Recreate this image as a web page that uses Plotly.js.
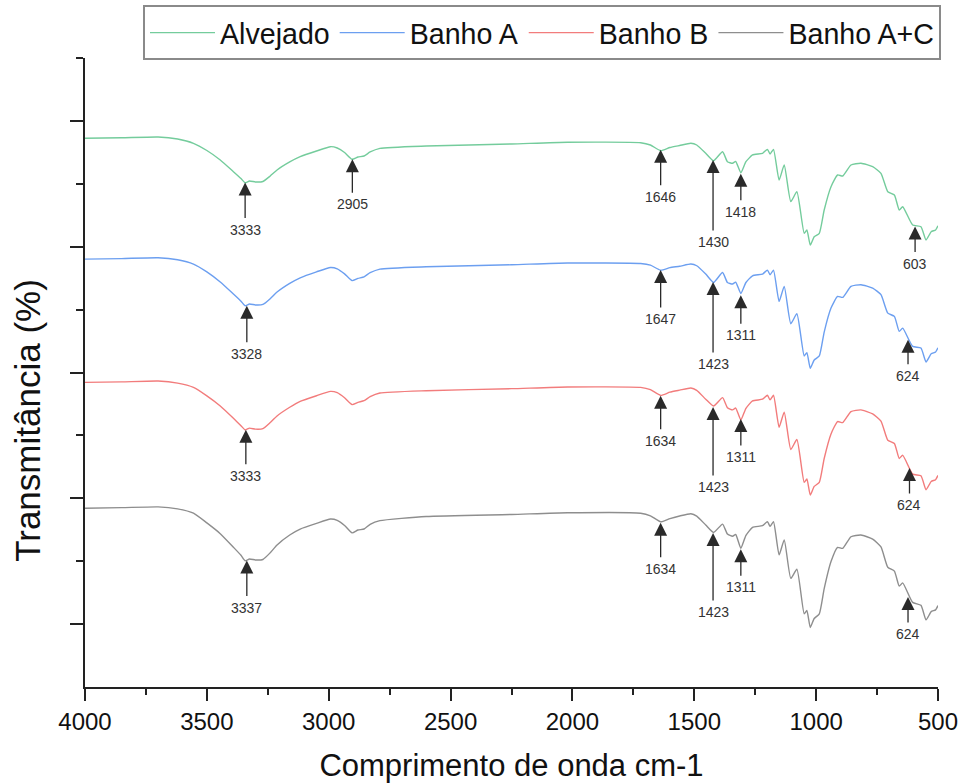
<!DOCTYPE html>
<html>
<head>
<meta charset="utf-8">
<script src="https://cdn.plot.ly/plotly-3.0.1.min.js"></script>
<style>html,body{margin:0;padding:0;background:#fff;}#chart{width:965px;height:784px;}</style>
</head>
<body>
<div id="chart"></div>
<script>
// Wavenumbers (cm-1)
const wavenumber = [4000,3850,3700,3620,3555,3500,3445,3391,3360,3343,3325,3300,3270,3240,3212,3160,3117,3050,2993,2965,2935,2904,2880,2855,2830,2790,2600,2250,2020,1720,1680,1638,1600,1560,1514,1490,1453,1421,1384,1364,1343,1330,1309,1288,1261,1220,1200,1189,1175,1152,1131,1104,1079,1049,1038,1024,1008,987,967,939,912,891,857,816,768,734,706,679,659,645,604,570,549,528,510,500];

// Transmittance (stacked, arbitrary offset units)
const alvejado = [87.23,87.31,87.44,87.12,86.44,85.29,83.78,81.92,80.84,80.17,80.45,80.29,80.37,81.24,82.19,83.47,84.31,85.21,85.90,85.69,84.98,83.90,84.26,84.42,85.06,85.64,86.01,86.33,86.60,86.53,86.17,85.26,85.77,86.09,86.44,86.17,84.85,83.67,85.10,83.51,83.26,83.55,81.76,83.51,84.58,84.85,85.48,84.74,85.48,80.60,82.99,77.16,78.74,72.13,72.66,70.27,71.59,72.13,75.83,79.54,81.40,81.24,82.99,83.26,82.72,81.67,78.74,78.22,75.83,76.36,73.45,73.18,71.07,72.38,72.66,73.34];
const banhoA = [68.03,68.11,68.24,67.92,67.24,65.99,64.38,62.47,61.34,60.62,60.90,60.74,60.82,61.74,62.79,64.17,65.06,66.01,66.70,66.49,65.68,64.60,64.96,65.22,65.86,66.44,66.81,67.13,67.40,67.33,67.07,66.26,66.67,66.89,67.24,66.97,65.65,64.32,65.90,64.31,64.06,64.35,62.56,64.31,65.38,65.65,66.28,65.54,66.28,61.30,63.69,57.76,59.34,52.63,53.16,50.67,51.99,52.63,56.43,60.24,62.10,61.94,63.69,63.96,63.42,62.37,59.44,58.92,56.53,57.06,54.15,53.88,51.67,52.98,53.26,53.94];
const banhoB = [48.43,48.51,48.64,48.32,47.64,46.29,44.68,42.72,41.54,40.87,41.15,40.99,41.07,42.04,43.09,44.47,45.41,46.31,47.00,46.79,45.98,44.90,45.26,45.52,46.16,46.74,47.11,47.43,47.70,47.63,47.27,46.36,46.87,47.19,47.54,47.17,45.75,44.67,46.00,44.41,44.06,44.35,42.46,44.31,45.48,45.75,46.38,45.64,46.38,41.30,43.69,37.76,39.34,32.53,33.06,30.52,31.89,32.53,36.33,40.24,42.20,42.04,43.79,44.06,43.42,42.27,39.24,38.72,36.33,36.86,33.85,33.58,31.37,32.68,32.96,33.64];
const banhoAC = [28.43,28.51,28.64,28.32,27.64,26.09,24.38,22.22,20.94,20.07,20.35,20.19,20.27,21.34,22.59,24.17,25.11,26.01,26.70,26.49,25.68,24.50,24.96,25.12,25.86,26.44,27.11,27.43,27.70,27.63,27.22,26.26,26.77,27.19,27.54,27.17,25.75,24.57,25.90,24.31,23.96,24.25,22.06,24.11,25.38,25.65,26.28,25.54,26.28,21.00,23.39,17.26,18.74,11.63,12.16,9.47,10.89,11.63,15.63,19.94,22.20,22.04,23.89,24.16,23.52,22.27,19.04,18.42,16.03,16.56,13.45,12.98,10.67,11.98,12.26,12.94];

const seriesNames = ['Alvejado','Banho A','Banho B','Banho A+C'];
const seriesColors = ['#74cc9c','#6c9ff0','#f27c7c','#8e8e8e'];

// Peak labels and where their arrows point
const peakLabels = ['3333','2905','1646','1430','1418','603',
                    '3328','1647','1423','1311','624',
                    '3333','1634','1423','1311','624',
                    '3337','1634','1423','1311','624'];
const peakX = [3343,2903,1638,1423,1309,594,
               3336,1638,1423,1309,623,
               3340,1638,1423,1309,617,
               3336,1638,1423,1309,623];
const peakY = [80.2,83.9,85.4,83.8,81.6,73.2,
               60.6,66.3,64.4,62.3,55.2,
               40.9,46.3,44.5,42.6,34.8,
               20.1,26.1,24.5,21.9,14.3];
const peakOffset = [47,45,47,82,38,37,
                    48,49,82,40,36,
                    46,45,80,38,37,
                    47,46,79,38,37];

const ys = [alvejado, banhoA, banhoB, banhoAC];
const traces = seriesNames.map((n,i)=>({
  type:'scatter', mode:'lines', name:n, x:wavenumber, y:ys[i],
  line:{color:seriesColors[i], width:1.4, shape:'spline', smoothing:0.5}
}));

const FONT = 'Liberation Sans, Arial, sans-serif';

const annotations = peakLabels.map((t,i)=>({
  x:peakX[i], y:peakY[i], xref:'x', yref:'y', text:t,
  showarrow:true, ax:0, ay:peakOffset[i],
  arrowhead:2, arrowsize:2.0, arrowwidth:1.3, arrowcolor:'#2a2a2a',
  standoff:0, startstandoff:2,
  font:{family:FONT, size:14, color:'#333'}
}));

// y-axis title (placed as in the reference, slightly below the axis centre)
annotations.push({
  text:'Transmitância (%)', xref:'paper', yref:'paper',
  x:-0.067, y:0.4245, xanchor:'center', yanchor:'middle',
  textangle:-90, showarrow:false,
  font:{size:35, family:FONT, color:'#111'}
});

const layout = {
  width:965, height:784,
  margin:{l:85, r:27, t:58, b:97, autoexpand:false},
  paper_bgcolor:'#fff', plot_bgcolor:'#fff',
  font:{family:FONT, color:'#111'},
  showlegend:true,
  legend:{orientation:'h', x:0.068, xanchor:'left', yref:'container', y:0.993, yanchor:'top',
    font:{size:28.6, family:FONT, color:'#111'}, bordercolor:'#8a8a8a', borderwidth:2,
    bgcolor:'#fff', itemwidth:65, traceorder:'normal'},
  xaxis:{
    range:[4000,500], showgrid:false, zeroline:false,
    showline:true, linecolor:'#222', linewidth:2,
    tickmode:'array', tickvals:[4000,3500,3000,2500,2000,1500,1000,500],
    ticktext:['4000','3500','3000','2500','2000','1500','1000','500'],
    ticks:'outside', ticklen:12, tickwidth:2, tickcolor:'#222',
    minor:{tickvals:[3750,3250,2750,2250,1750,1250,750], ticks:'outside', ticklen:6, tickwidth:2, tickcolor:'#222'},
    tickfont:{size:24, family:FONT, color:'#111'},
    title:{text:'Comprimento de onda cm-1', font:{size:31, family:FONT, color:'#111'}, standoff:21}
  },
  yaxis:{
    range:[0,100], showgrid:false, zeroline:false,
    showline:true, linecolor:'#222', linewidth:2,
    tickmode:'array', tickvals:[10,30,50,70,90], showticklabels:false,
    ticks:'outside', ticklen:13, tickwidth:2, tickcolor:'#222',
    minor:{tickvals:[20,40,60,80,100], ticks:'outside', ticklen:7, tickwidth:2, tickcolor:'#222'}
  },
  annotations: annotations
};

Plotly.newPlot('chart', traces, layout, {displayModeBar:false, staticPlot:true});
</script>
</body>
</html>
